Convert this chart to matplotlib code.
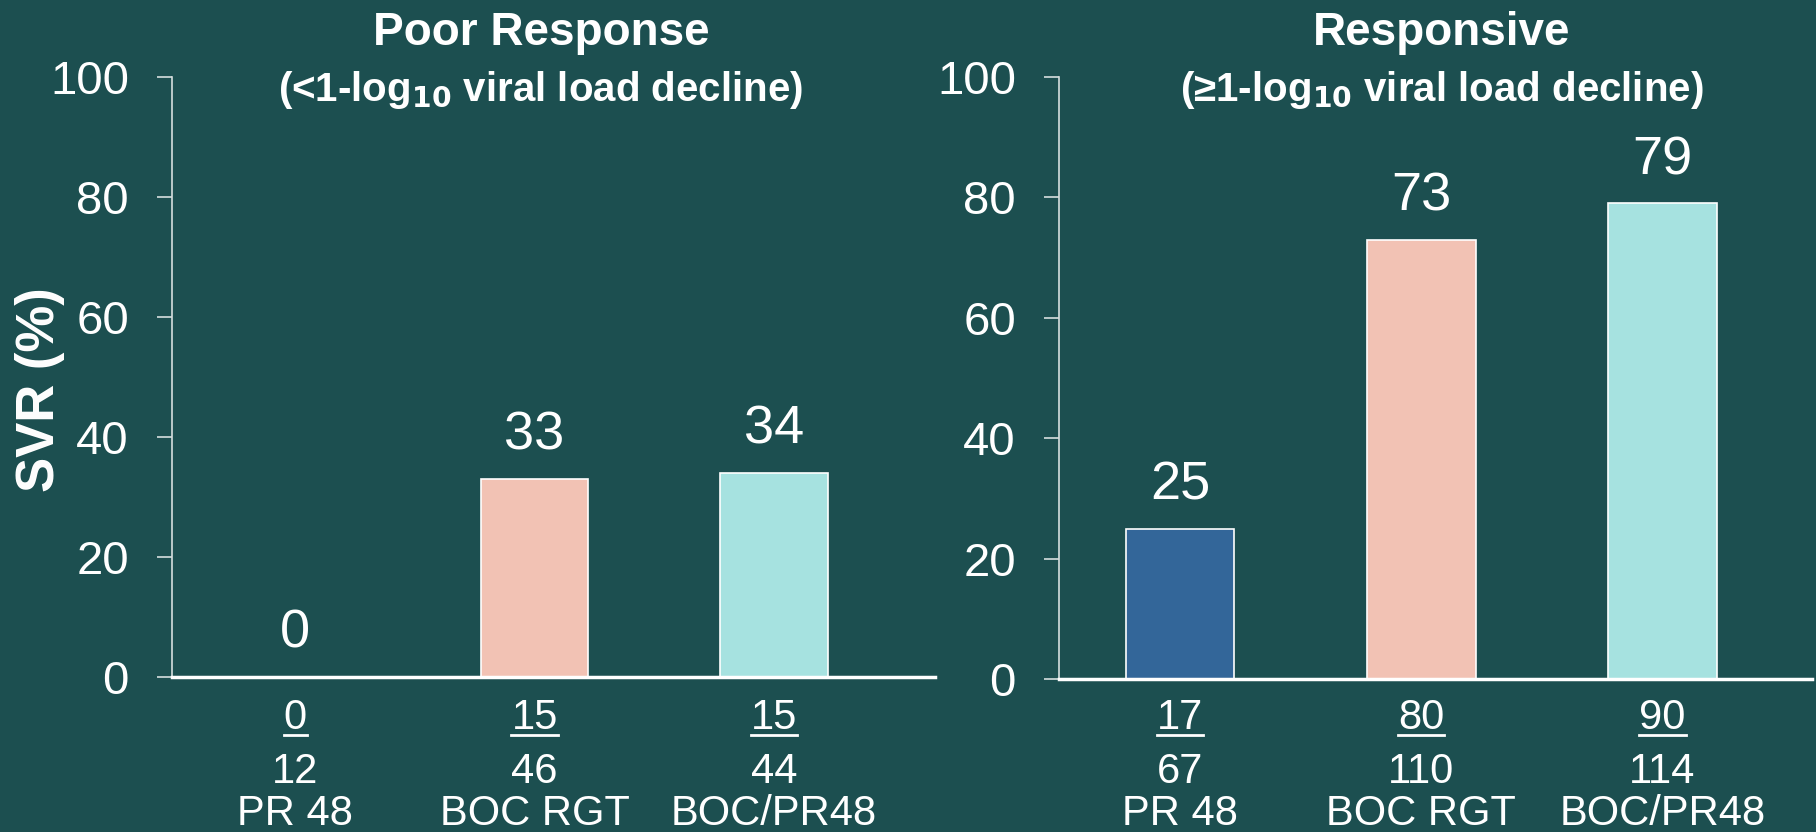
import matplotlib
matplotlib.use("Agg")
import matplotlib.pyplot as plt
import matplotlib.transforms as mtransforms
from matplotlib.lines import Line2D

plt.rcParams['font.family'] = ['Liberation Sans', 'DejaVu Sans']

# SVR (%) by arm, split by week-4 viral load response
arms = ['PR 48', 'BOC RGT', 'BOC/PR48']
poor_svr = [0, 33, 34]
poor_n = [0, 15, 15]
poor_total = [12, 46, 44]
resp_svr = [25, 73, 79]
resp_n = [17, 80, 90]
resp_total = [67, 110, 114]
yticks = [0, 20, 40, 60, 80, 100]

bg = '#1c4f50'
poor_colors = [bg, '#f2c2b4', '#a6e2e0']
resp_colors = ['#336699', '#f2c2b4', '#a6e2e0']

W, H = 1816, 832
fig = plt.figure(figsize=(W / 100, H / 100), dpi=100, facecolor=bg)

ax1 = fig.add_axes([172 / W, 1 - 677 / H, (935 - 172) / W, (677 - 77) / H])
ax2 = fig.add_axes([1059 / W, 1 - 679 / H, (1812 - 1059) / W, (679 - 77) / H])

panels = [
    (ax1, poor_svr, poor_n, poor_total, poor_colors, (-0.514, 2.672)),
    (ax2, resp_svr, resp_n, resp_total, resp_colors, (-0.502, 2.62)),
]

numerators = []
for ax, svr, n, total, colors, xl in panels:
    ax.set_facecolor(bg)
    x = list(range(len(arms)))
    ax.bar(x, svr, width=0.45, color=colors, edgecolor='white', linewidth=1.2, zorder=2)
    for xi, v in zip(x, svr):
        ax.annotate(str(v), (xi, v), xytext=(0, 13), textcoords='offset points',
                    ha='center', va='bottom', fontsize=39, color='white')
    ax.set_xlim(*xl)
    ax.set_ylim(0, 100)
    ax.set_yticks(yticks)
    ax.set_xticks([])
    ax.tick_params(axis='y', colors='#d6dede', labelcolor='white', labelsize=34,
                   length=11, width=1.2, pad=20)
    for s in ['top', 'right']:
        ax.spines[s].set_visible(False)
    ax.spines['left'].set_color('#d6dede')
    ax.spines['left'].set_linewidth(1.2)
    ax.spines['bottom'].set_color('white')
    ax.spines['bottom'].set_linewidth(2.5)
    ax.spines['bottom'].set_zorder(3)

    # responders / total / arm name under each bar
    trans = mtransforms.blended_transform_factory(ax.transData, fig.transFigure)
    for xi, a, b, name in zip(x, n, total, arms):
        t = ax.text(xi, 1 - 718 / H, str(a), transform=trans, ha='center', va='center',
                    fontsize=30, color='white')
        numerators.append(t)
        ax.text(xi, 1 - 772 / H, str(b), transform=trans, ha='center', va='center',
                fontsize=30, color='white')
        ax.text(xi, 1 - 814 / H, name, transform=trans, ha='center', va='center',
                fontsize=30, color='white')

fig.text(541 / W, 1 - 33 / H, 'Poor Response', ha='center', va='center',
         fontsize=33, fontweight='bold', color='white')
fig.text(541 / W, 1 - 90 / H, r'(<1-log$_{\mathbf{10}}$ viral load decline)', ha='center',
         va='center', fontsize=29, fontweight='bold', color='white')
fig.text(1442 / W, 1 - 33 / H, 'Responsive', ha='center', va='center',
         fontsize=33, fontweight='bold', color='white')
fig.text(1442 / W, 1 - 90 / H, '(\u22651-log$_{\\mathbf{10}}$ viral load decline)', ha='center',
         va='center', fontsize=29, fontweight='bold', color='white')
fig.text(40 / W, 1 - 390 / H, 'SVR (%)', rotation=90, ha='center', va='center',
         fontsize=38, fontweight='bold', color='white')

# underline the responder counts, just under the digits
fig.canvas.draw()
renderer = fig.canvas.get_renderer()
for t in numerators:
    bb = t.get_window_extent(renderer)
    y = bb.y0 + 3
    fig.add_artist(Line2D([bb.x0 / W, bb.x1 / W], [y / H, y / H],
                          transform=fig.transFigure, color='white', linewidth=2))

fig.savefig('out.png', dpi=100, facecolor=bg)
